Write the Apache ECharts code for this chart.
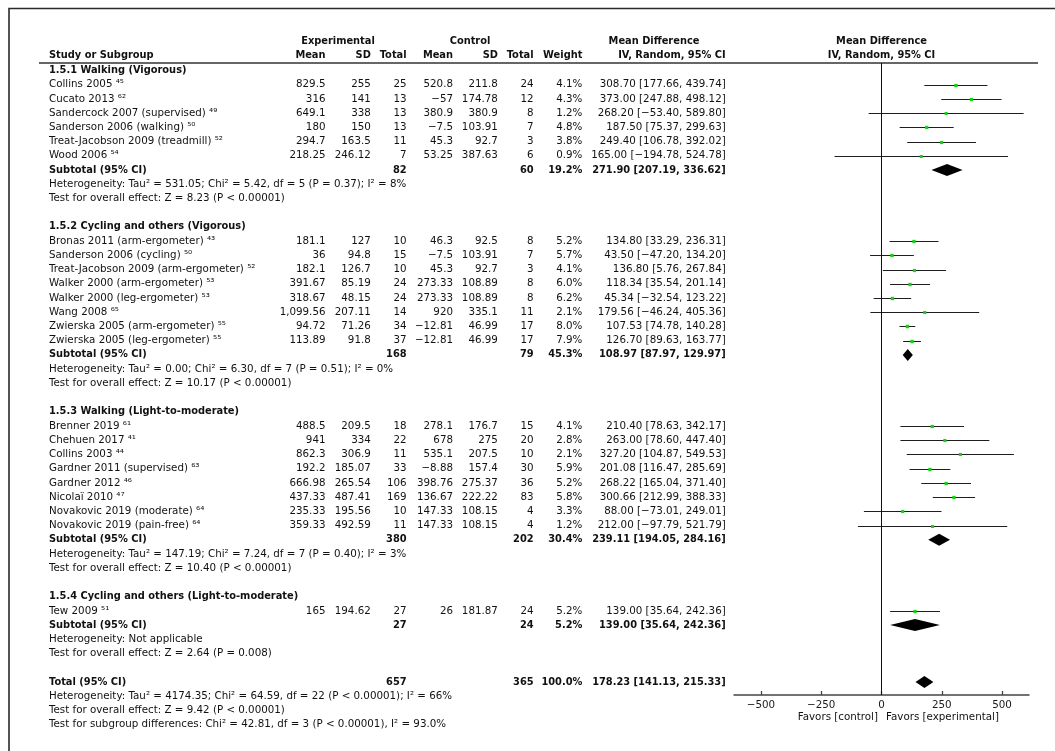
<!DOCTYPE html>
<html><head><meta charset="utf-8">
<script src="https://cdn.jsdelivr.net/npm/echarts@6/dist/echarts.min.js"></script>
<style>html,body{margin:0;padding:0;background:#fff}#c{width:1055px;height:751px}</style>
</head><body><div id="c"></div>
<script>
// ---------------- DATA ----------------
const groupTitles = [
  "1.5.1 Walking (Vigorous)",
  "1.5.2 Cycling and others (Vigorous)",
  "1.5.3 Walking (Light-to-moderate)",
  "1.5.4 Cycling and others (Light-to-moderate)"
];
const studyNames = [
  "Collins 2005 \u2074\u2075", "Cucato 2013 \u2076\u00b2", "Sandercock 2007 (supervised) \u2074\u2079",
  "Sanderson 2006 (walking) \u2075\u2070", "Treat-Jacobson 2009 (treadmill) \u2075\u00b2", "Wood 2006 \u2075\u2074",
  "Bronas 2011 (arm-ergometer) \u2074\u00b3", "Sanderson 2006 (cycling) \u2075\u2070",
  "Treat-Jacobson 2009 (arm-ergometer) \u2075\u00b2", "Walker 2000 (arm-ergometer) \u2075\u00b3",
  "Walker 2000 (leg-ergometer) \u2075\u00b3", "Wang 2008 \u2076\u2075",
  "Zwierska 2005 (arm-ergometer) \u2075\u2075", "Zwierska 2005 (leg-ergometer) \u2075\u2075",
  "Brenner 2019 \u2076\u00b9", "Chehuen 2017 \u2074\u00b9", "Collins 2003 \u2074\u2074",
  "Gardner 2011 (supervised) \u2076\u00b3", "Gardner 2012 \u2074\u2076", "Nicola\u00ef 2010 \u2074\u2077",
  "Novakovic 2019 (moderate) \u2076\u2074", "Novakovic 2019 (pain-free) \u2076\u2074",
  "Tew 2009 \u2075\u00b9"
];
const studyGroup = [0,0,0,0,0,0, 1,1,1,1,1,1,1,1, 2,2,2,2,2,2,2,2, 3];
const expMean  = [829.5,316,649.1,180,294.7,218.25, 181.1,36,182.1,391.67,318.67,1099.56,94.72,113.89, 488.5,941,862.3,192.2,666.98,437.33,235.33,359.33, 165];
const expSD    = [255,141,338,150,163.5,246.12, 127,94.8,126.7,85.19,48.15,207.11,71.26,91.8, 209.5,334,306.9,185.07,265.54,487.41,195.56,492.59, 194.62];
const expN     = [25,13,13,13,11,7, 10,15,10,24,24,14,34,37, 18,22,11,33,106,169,10,11, 27];
const ctrlMean = [520.8,-57,380.9,-7.5,45.3,53.25, 46.3,-7.5,45.3,273.33,273.33,920,-12.81,-12.81, 278.1,678,535.1,-8.88,398.76,136.67,147.33,147.33, 26];
const ctrlSD   = [211.8,174.78,380.9,103.91,92.7,387.63, 92.5,103.91,92.7,108.89,108.89,335.1,46.99,46.99, 176.7,275,207.5,157.4,275.37,222.22,108.15,108.15, 181.87];
const ctrlN    = [24,12,8,7,3,6, 8,7,3,8,8,11,17,17, 15,20,10,30,36,83,4,4, 24];
const weight   = [4.1,4.3,1.2,4.8,3.8,0.9, 5.2,5.7,4.1,6.0,6.2,2.1,8.0,7.9, 4.1,2.8,2.1,5.9,5.2,5.8,3.3,1.2, 5.2];
const md       = [308.70,373.00,268.20,187.50,249.40,165.00, 134.80,43.50,136.80,118.34,45.34,179.56,107.53,126.70, 210.40,263.00,327.20,201.08,268.22,300.66,88.00,212.00, 139.00];
const ciLow    = [177.66,247.88,-53.40,75.37,106.78,-194.78, 33.29,-47.20,5.76,35.54,-32.54,-46.24,74.78,89.63, 78.63,78.60,104.87,116.47,165.04,212.99,-73.01,-97.79, 35.64];
const ciHigh   = [439.74,498.12,589.80,299.63,392.02,524.78, 236.31,134.20,267.84,201.14,123.22,405.36,140.28,163.77, 342.17,447.40,549.53,285.69,371.40,388.33,249.01,521.79, 242.36];

const subExpN  = [82,168,380,27];
const subCtrlN = [60,79,202,24];
const subWeight= [19.2,45.3,30.4,5.2];
const subMD    = [271.90,108.97,239.11,139.00];
const subLow   = [207.19,87.97,194.05,35.64];
const subHigh  = [336.62,129.97,284.16,242.36];
const subHet = [
  "Heterogeneity: Tau\u00b2 = 531.05; Chi\u00b2 = 5.42, df = 5 (P = 0.37); I\u00b2 = 8%",
  "Heterogeneity: Tau\u00b2 = 0.00; Chi\u00b2 = 6.30, df = 7 (P = 0.51); I\u00b2 = 0%",
  "Heterogeneity: Tau\u00b2 = 147.19; Chi\u00b2 = 7.24, df = 7 (P = 0.40); I\u00b2 = 3%",
  "Heterogeneity: Not applicable"
];
const subTest = [
  "Test for overall effect: Z = 8.23 (P < 0.00001)",
  "Test for overall effect: Z = 10.17 (P < 0.00001)",
  "Test for overall effect: Z = 10.40 (P < 0.00001)",
  "Test for overall effect: Z = 2.64 (P = 0.008)"
];
const totalExpN = 657, totalCtrlN = 365, totalWeight = 100.0;
const totalMD = 178.23, totalLow = 141.13, totalHigh = 215.33;
const totalNotes = [
  "Heterogeneity: Tau\u00b2 = 4174.35; Chi\u00b2 = 64.59, df = 22 (P < 0.00001); I\u00b2 = 66%",
  "Test for overall effect: Z = 9.42 (P < 0.00001)",
  "Test for subgroup differences: Chi\u00b2 = 42.81, df = 3 (P < 0.00001), I\u00b2 = 93.0%"
];
const xTicks = [-500, -250, 0, 250, 500];
const xRange = [-612, 612];

// ---------------- LAYOUT ----------------
const FF = '"DejaVu Sans", sans-serif';
const FS = 10.3, FSB = 9.85;
const Y0 = 70.5, STEP = 14.22;
const rowY = i => Y0 + STEP * i;
const GRID_TOP = 63, AXIS_Y = 695;
const COL = {name:49, eMean:325.5, eSD:370.8, eN:406.6, cMean:453, cSD:497.9, cN:533.6, w:582.4, ci:725.7};

const minus = s => s.replace(/^-/, '\u2212');
const fmtNum = v => minus(v.toLocaleString('en-US', {maximumFractionDigits: 2}));
const fmtCI = (m, l, h) => minus(m.toFixed(2)) + ' [' + minus(l.toFixed(2)) + ', ' + minus(h.toFixed(2)) + ']';

const graphics = [];
function txt(s, x, y, align, bold) {
  graphics.push({
    type: 'text', x: x, y: y, silent: true,
    style: {
      text: s, fill: '#111',
      font: (bold ? 'bold ' + FSB : FS) + 'px ' + FF,
      textAlign: align, textVerticalAlign: 'middle',
      align: align, verticalAlign: 'middle'
    }
  });
}

// frame and header rule
graphics.push({type:'polyline', silent:true, shape:{points:[[9,770],[9,8.5],[1070,8.5]]},
  style:{stroke:'#2a2a2a', lineWidth:1.6, fill:null}});
graphics.push({type:'line', silent:true, shape:{x1:39, y1:GRID_TOP, x2:1038, y2:GRID_TOP},
  style:{stroke:'#333', lineWidth:1.3}});

// headers
const H1 = 41.5, H2 = 55.5;
txt('Experimental', 338, H1, 'center', true);
txt('Control', 470, H1, 'center', true);
txt('Mean Difference', 654, H1, 'center', true);
txt('Mean Difference', 881.5, H1, 'center', true);
txt('Study or Subgroup', COL.name, H2, 'left', true);
txt('Mean', COL.eMean, H2, 'right', true);
txt('SD', COL.eSD, H2, 'right', true);
txt('Total', COL.eN, H2, 'right', true);
txt('Mean', COL.cMean, H2, 'right', true);
txt('SD', COL.cSD, H2, 'right', true);
txt('Total', COL.cN, H2, 'right', true);
txt('Weight', COL.w, H2, 'right', true);
txt('IV, Random, 95% CI', COL.ci, H2, 'right', true);
txt('IV, Random, 95% CI', 881.5, H2, 'center', true);

// rows
const ciData = [], diaData = [];
let row = 0;
for (let g = 0; g < groupTitles.length; g++) {
  txt(groupTitles[g], COL.name, rowY(row), 'left', true);
  row++;
  for (let k = 0; k < studyNames.length; k++) {
    if (studyGroup[k] !== g) continue;
    const y = rowY(row);
    txt(studyNames[k], COL.name, y, 'left', false);
    txt(fmtNum(expMean[k]), COL.eMean, y, 'right', false);
    txt(fmtNum(expSD[k]), COL.eSD, y, 'right', false);
    txt(String(expN[k]), COL.eN, y, 'right', false);
    txt(fmtNum(ctrlMean[k]), COL.cMean, y, 'right', false);
    txt(fmtNum(ctrlSD[k]), COL.cSD, y, 'right', false);
    txt(String(ctrlN[k]), COL.cN, y, 'right', false);
    txt(weight[k].toFixed(1) + '%', COL.w, y, 'right', false);
    txt(fmtCI(md[k], ciLow[k], ciHigh[k]), COL.ci, y, 'right', false);
    ciData.push([ciLow[k], ciHigh[k], md[k], row, weight[k]]);
    row++;
  }
  const y = rowY(row);
  txt('Subtotal (95% CI)', COL.name, y, 'left', true);
  txt(String(subExpN[g]), COL.eN, y, 'right', true);
  txt(String(subCtrlN[g]), COL.cN, y, 'right', true);
  txt(subWeight[g].toFixed(1) + '%', COL.w, y, 'right', true);
  txt(fmtCI(subMD[g], subLow[g], subHigh[g]), COL.ci, y, 'right', true);
  diaData.push([subLow[g], subHigh[g], subMD[g], row]);
  row++;
  txt(subHet[g], COL.name, rowY(row), 'left', false); row++;
  txt(subTest[g], COL.name, rowY(row), 'left', false); row++;
  row++; // blank
}
{
  const y = rowY(row);
  txt('Total (95% CI)', COL.name, y, 'left', true);
  txt(String(totalExpN), COL.eN, y, 'right', true);
  txt(String(totalCtrlN), COL.cN, y, 'right', true);
  txt(totalWeight.toFixed(1) + '%', COL.w, y, 'right', true);
  txt(fmtCI(totalMD, totalLow, totalHigh), COL.ci, y, 'right', true);
  diaData.push([totalLow, totalHigh, totalMD, row]);
  row++;
  for (const n of totalNotes) { txt(n, COL.name, rowY(row), 'left', false); row++; }
}
// axis captions
txt('Favors [control]', 878, 717, 'right', false);
txt('Favors [experimental]', 886, 717, 'left', false);

const yMin = (GRID_TOP - Y0) / STEP;
const yMax = (AXIS_Y - Y0) / STEP;

const chart = echarts.init(document.getElementById('c'), null, {renderer: 'canvas'});
chart.setOption({
  animation: false,
  backgroundColor: '#fff',
  grid: {left: 734, right: 1055 - 1029, top: GRID_TOP, bottom: 751 - AXIS_Y, containLabel: false},
  xAxis: {
    type: 'value', min: xRange[0], max: xRange[1],
    axisLine: {show: true, onZero: false, lineStyle: {color: '#444', width: 1.5}},
    axisTick: {show: true, inside: true, length: 4, customValues: xTicks, lineStyle: {color: '#444', width: 1.3}},
    axisLabel: {show: true, customValues: xTicks, margin: 5, fontSize: FS, fontFamily: FF, color: '#1a1a1a',
      formatter: v => (v < 0 ? '\u2212' + Math.abs(v) : String(v))},
    splitLine: {show: false}
  },
  yAxis: {type: 'value', inverse: true, min: yMin, max: yMax, show: false, splitLine: {show: false}},
  series: [
    {
      type: 'custom', name: 'studies', data: ciData, encode: {x: [0, 1, 2], y: 3}, z: 3,
      renderItem: (params, api) => {
        const r = api.value(3);
        const a = api.coord([api.value(0), r]);
        const b = api.coord([api.value(1), r]);
        const m = api.coord([api.value(2), r]);
        const yy = Math.round(a[1]) + 0.5;
        const s = 3 + api.value(4) * 0.06;
        return {type: 'group', children: [
          {type: 'line', shape: {x1: a[0], y1: yy, x2: b[0], y2: yy}, style: {stroke: '#1e1e1e', lineWidth: 1}},
          {type: 'rect', shape: {x: m[0] - s / 2, y: yy - s / 2, width: s, height: s}, style: {fill: '#14d214'}}
        ]};
      },
      markLine: {silent: true, symbol: ['none', 'none'], label: {show: false},
        lineStyle: {color: '#111', width: 1, type: 'solid'}, data: [{xAxis: 0}]}
    },
    {
      type: 'custom', name: 'pooled', data: diaData, encode: {x: [0, 1, 2], y: 3}, z: 4,
      renderItem: (params, api) => {
        const r = api.value(3);
        const a = api.coord([api.value(0), r]);
        const b = api.coord([api.value(1), r]);
        const m = api.coord([api.value(2), r]);
        const h = 6;
        return {type: 'polygon', shape: {points: [[a[0], a[1]], [m[0], m[1] - h], [b[0], b[1]], [m[0], m[1] + h]]},
          style: {fill: '#000'}};
      }
    }
  ],
  graphic: graphics
});
</script>
</body></html>
